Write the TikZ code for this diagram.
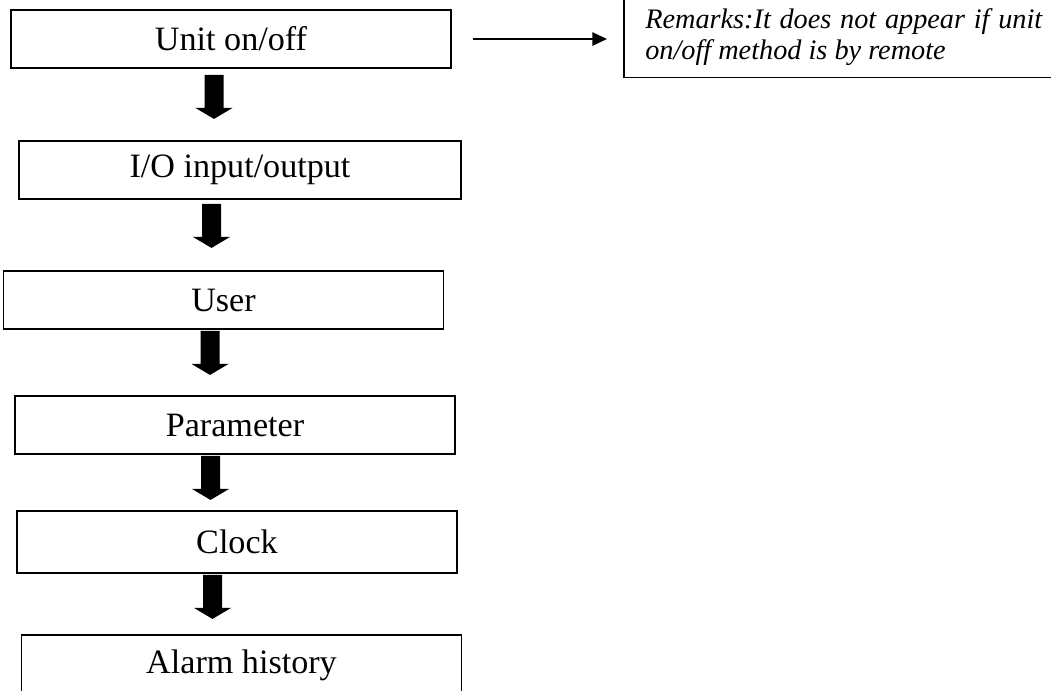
\documentclass[tikz,border=0pt]{standalone}
\usepackage{fontspec}
\setmainfont{Liberation Serif}
\usetikzlibrary{arrows.meta,calc}
\begin{document}
\begin{tikzpicture}[x=0.75pt,y=-0.75pt,
  stepbox/.style={draw,line width=1.4pt,minimum width=330pt,minimum height=43.5pt,inner sep=0pt,font=\fontsize{25.6}{30}\selectfont},
  blockarrow/.style={fill=black},
  thinarrow/.style={line width=1.1pt,-{Triangle[length=11pt,width=10pt]}},
  remarktext/.style={font=\fontsize{21.2}{23.25}\selectfont\itshape,text width=297.75pt,align=justify,inner sep=0pt}]
\useasboundingbox (0,0) rectangle (1051,690);
\clip (0,0) rectangle (1051,690);
\node[stepbox] (b1) at (231,39) {Unit on/off};
\node[stepbox,minimum width=331.5pt] (b2) at (240,170) {I/O input/output};
\node[stepbox] (b3) at (223.5,300) {User};
\node[stepbox] (b4) at (235,425) {Parameter};
\node[stepbox,minimum height=46.5pt] (b5) at (237,542) {Clock};
\node[stepbox,minimum height=45pt] (b6) at (241.5,665) {Alarm history};
\foreach \a/\dx/\dy in {b1/-17/6, b2/-28.5/4, b3/-13.5/1, b4/-24.5/1, b5/-24.5/1}{
  \fill[blockarrow] (\a.south) ++(\dx-9.5,\dy) -- ++(19,0) -- ++(0,33) -- ++(9,0) -- ++(-18.5,11) -- ++(-18.5,-11) -- ++(9,0) -- cycle;
}
\node[remarktext,anchor=north west] (rem) at (645,8) {Remarks:It does not appear if unit on/off method is by remote};
\coordinate (rbox) at ($(rem.south west)+(-21,12)$);
\draw[line width=1.4pt] (rbox) rectangle ++(500,-120);
\draw[thinarrow,shorten <=15.75pt,shorten >=12.75pt] (b1.east) -- (b1.east -| rbox);
\end{tikzpicture}
\end{document}
